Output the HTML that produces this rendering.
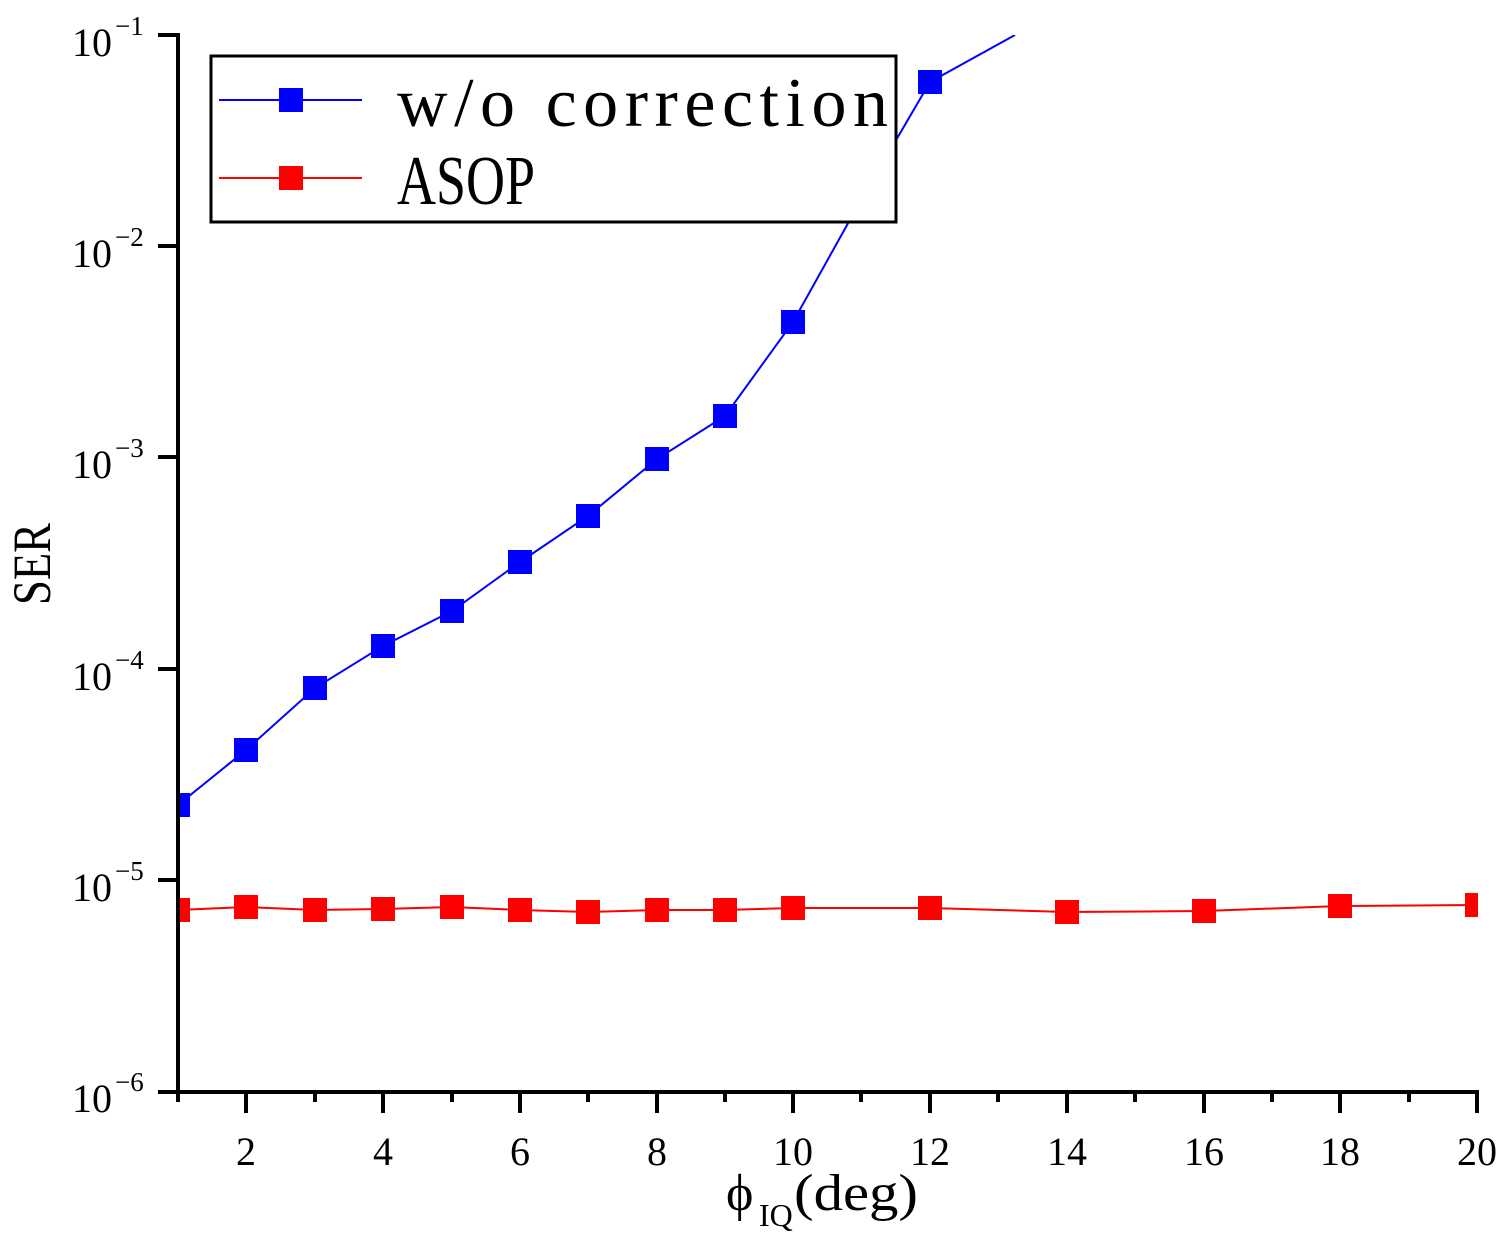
<!DOCTYPE html>
<html><head><style>body{margin:0;background:#fff}svg{display:block}</style></head><body>
<svg width="1505" height="1246" xmlns="http://www.w3.org/2000/svg" font-family="Liberation Serif, serif">
<rect width="1505" height="1246" fill="#fff"/>
<defs><clipPath id="c"><rect x="178" y="35" width="1300" height="1057"/></clipPath></defs>
<g clip-path="url(#c)">
<polyline fill="none" stroke="#0000ff" stroke-width="2" points="178,805 246,750 315,688 383,646 452,611 520,562 588,516 657,459 725,416 793,322 861,200 930,82 1015,35"/>
<polyline fill="none" stroke="#ff0000" stroke-width="2" points="178,910 246,907 315,910 383,909 452,907 520,910 588,912 657,910 725,910 793,908 930,908 1067,912 1204,911 1340,906 1477,905"/>
<g fill="#0000ff">
<rect x="166" y="793" width="24" height="24"/><rect x="234" y="738" width="24" height="24"/><rect x="303" y="676" width="24" height="24"/><rect x="371" y="634" width="24" height="24"/><rect x="440" y="599" width="24" height="24"/><rect x="508" y="550" width="24" height="24"/><rect x="576" y="504" width="24" height="24"/><rect x="645" y="447" width="24" height="24"/><rect x="713" y="404" width="24" height="24"/><rect x="781" y="310" width="24" height="24"/><rect x="918" y="70" width="24" height="24"/>
</g>
<g fill="#ff0000">
<rect x="166" y="898" width="24" height="24"/><rect x="234" y="895" width="24" height="24"/><rect x="303" y="898" width="24" height="24"/><rect x="371" y="897" width="24" height="24"/><rect x="440" y="895" width="24" height="24"/><rect x="508" y="898" width="24" height="24"/><rect x="576" y="900" width="24" height="24"/><rect x="645" y="898" width="24" height="24"/><rect x="713" y="898" width="24" height="24"/><rect x="781" y="896" width="24" height="24"/><rect x="918" y="896" width="24" height="24"/><rect x="1055" y="900" width="24" height="24"/><rect x="1192" y="899" width="24" height="24"/><rect x="1328" y="894" width="24" height="24"/><rect x="1465" y="893" width="24" height="24"/>
</g>
</g>
<g stroke="#000" stroke-width="4" fill="none">
<line x1="178" y1="33" x2="178" y2="1102"/>
<line x1="158" y1="1092" x2="1479" y2="1092"/>
<line x1="158" y1="35" x2="180" y2="35"/>
<line x1="158" y1="246" x2="178" y2="246"/>
<line x1="158" y1="457" x2="178" y2="457"/>
<line x1="158" y1="669" x2="178" y2="669"/>
<line x1="158" y1="880" x2="178" y2="880"/>
</g>
<g stroke="#000" stroke-width="4">
<line x1="246" y1="1092" x2="246" y2="1113"/><line x1="383" y1="1092" x2="383" y2="1113"/><line x1="520" y1="1092" x2="520" y2="1113"/><line x1="657" y1="1092" x2="657" y2="1113"/><line x1="793" y1="1092" x2="793" y2="1113"/><line x1="930" y1="1092" x2="930" y2="1113"/><line x1="1067" y1="1092" x2="1067" y2="1113"/><line x1="1204" y1="1092" x2="1204" y2="1113"/><line x1="1340" y1="1092" x2="1340" y2="1113"/><line x1="1477" y1="1092" x2="1477" y2="1113"/>
<line x1="178" y1="1092" x2="178" y2="1102"/><line x1="315" y1="1092" x2="315" y2="1102"/><line x1="452" y1="1092" x2="452" y2="1102"/><line x1="588" y1="1092" x2="588" y2="1102"/><line x1="725" y1="1092" x2="725" y2="1102"/><line x1="861" y1="1092" x2="861" y2="1102"/><line x1="998" y1="1092" x2="998" y2="1102"/><line x1="1135" y1="1092" x2="1135" y2="1102"/><line x1="1272" y1="1092" x2="1272" y2="1102"/><line x1="1409" y1="1092" x2="1409" y2="1102"/>
</g>
<g font-size="40" fill="#000">
<text x="72" y="56">10</text><text x="115" y="35" font-size="27">−1</text>
<text x="72" y="267">10</text><text x="115" y="246" font-size="27">−2</text>
<text x="72" y="478">10</text><text x="115" y="457" font-size="27">−3</text>
<text x="72" y="690">10</text><text x="115" y="669" font-size="27">−4</text>
<text x="72" y="901">10</text><text x="115" y="880" font-size="27">−5</text>
<text x="72" y="1112">10</text><text x="115" y="1091" font-size="27">−6</text>
</g>
<g font-size="40" fill="#000" text-anchor="middle">
<text x="246" y="1165">2</text><text x="383" y="1165">4</text><text x="520" y="1165">6</text><text x="657" y="1165">8</text><text x="793" y="1165">10</text><text x="930" y="1165">12</text><text x="1067" y="1165">14</text><text x="1204" y="1165">16</text><text x="1340" y="1165">18</text><text x="1477" y="1165">20</text>
</g>
<text x="726" y="1210" font-size="52" fill="#000">ϕ</text>
<text x="759" y="1226" font-size="32" fill="#000">IQ</text>
<text x="794" y="1210" font-size="52" textLength="124" lengthAdjust="spacingAndGlyphs" fill="#000">(deg)</text>
<text transform="translate(50,605) rotate(-90)" font-size="54" textLength="82" lengthAdjust="spacingAndGlyphs" fill="#000">SER</text>
<rect x="211" y="56" width="685" height="166" fill="#fff" stroke="#000" stroke-width="3"/>
<line x1="219" y1="100" x2="362" y2="100" stroke="#0000ff" stroke-width="2"/>
<rect x="279" y="88" width="24" height="24" fill="#0000ff"/>
<line x1="219" y1="178" x2="362" y2="178" stroke="#ff0000" stroke-width="2"/>
<rect x="279" y="166" width="24" height="24" fill="#ff0000"/>
<text x="397" y="126" font-family="Liberation Serif, monospace" font-size="70" textLength="491" lengthAdjust="spacing" fill="#000">w/o correction</text>
<text x="397" y="204" font-family="Liberation Serif, monospace" font-size="70" textLength="138" lengthAdjust="spacingAndGlyphs" fill="#000">ASOP</text>
</svg>
</body></html>
